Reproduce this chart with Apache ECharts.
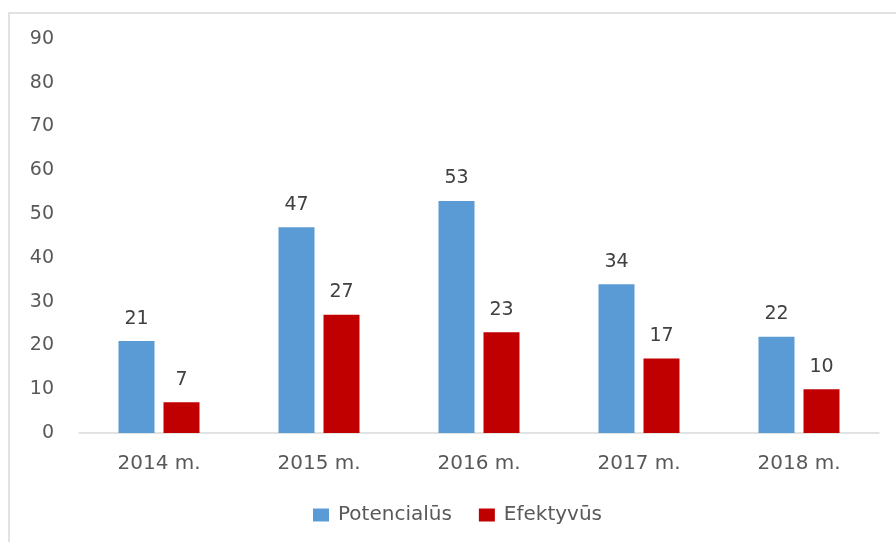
<!DOCTYPE html>
<html>
<head>
<meta charset="utf-8">
<script src="https://cdn.jsdelivr.net/npm/echarts@6/dist/echarts.min.js"></script>
<style>
  html, body { margin: 0; padding: 0; background: #ffffff; }
  #chart { width: 896px; height: 542px; }
</style>
</head>
<body>
<div id="chart"></div>
<script>
// Yearly counts by group
const categories = ['2014 m.', '2015 m.', '2016 m.', '2017 m.', '2018 m.'];
const potencialus = [21, 47, 53, 34, 22];
const efektyvus = [7, 27, 23, 17, 10];
const seriesNames = ['Potencialūs', 'Efektyvūs'];

const FONT = 'DejaVu Sans';

const chart = echarts.init(document.getElementById('chart'), null, { renderer: 'canvas' });

const labelStyle = {
  show: true,
  position: 'top',
  distance: 13,
  color: '#404040',
  fontFamily: FONT,
  fontSize: 19
};

chart.setOption({
  backgroundColor: '#ffffff',
  animation: false,
  graphic: [{
    type: 'rect',
    shape: { x: 9, y: 13, width: 1200, height: 1000 },
    style: { fill: 'none', stroke: '#d9d9d9', lineWidth: 1.5 },
    silent: true
  }],
  grid: { left: 79, right: 17, top: 39, bottom: 109, containLabel: false },
  legend: {
    data: seriesNames,
    left: 313,
    top: 505,
    padding: 0,
    itemWidth: 16,
    itemHeight: 13,
    itemGap: 27,
    icon: 'rect',
    textStyle: { color: '#595959', fontFamily: FONT, fontSize: 20, padding: [0, 0, 0, 4] }
  },
  xAxis: {
    type: 'category',
    data: categories,
    axisLine: { show: true, lineStyle: { color: '#d9d9d9', width: 1.5 } },
    axisTick: { show: false },
    axisLabel: { color: '#595959', fontFamily: FONT, fontSize: 20, margin: 21 },
    splitLine: { show: false }
  },
  yAxis: {
    type: 'value',
    min: 0,
    max: 90,
    interval: 10,
    axisLine: { show: false },
    axisTick: { show: false },
    splitLine: { show: false },
    axisLabel: { color: '#595959', fontFamily: FONT, fontSize: 19, margin: 25, padding: [6, 0, 0, 0] }
  },
  series: [
    {
      name: seriesNames[0],
      type: 'bar',
      data: potencialus,
      barWidth: '22.5%',
      barGap: '25%',
      itemStyle: { color: '#5b9bd5' },
      label: labelStyle
    },
    {
      name: seriesNames[1],
      type: 'bar',
      data: efektyvus,
      barWidth: '22.5%',
      barGap: '25%',
      itemStyle: { color: '#c00000' },
      label: labelStyle
    }
  ]
});
</script>
</body>
</html>
